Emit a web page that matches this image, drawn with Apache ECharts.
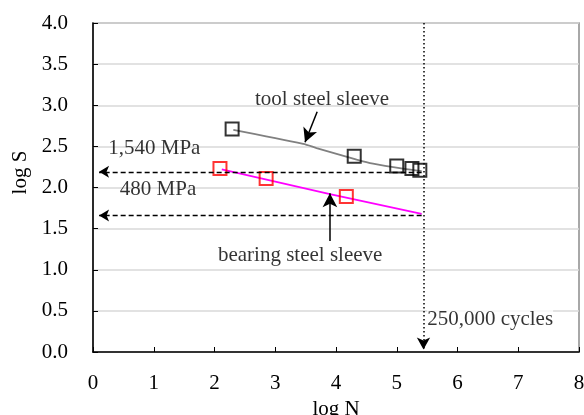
<!DOCTYPE html>
<html>
<head>
<meta charset="utf-8">
<script src="https://cdn.jsdelivr.net/npm/echarts@6/dist/echarts.min.js"></script>
<style>
  html, body { margin: 0; padding: 0; background: #fff; }
  #chart { width: 584px; height: 415px; }
</style>
</head>
<body>
<div id="chart"></div>
<script>
// measured points (log N, log S)
const toolSteelPoints = [[2.29, 2.71], [4.30, 2.38], [5.00, 2.26], [5.25, 2.23], [5.38, 2.21]];
const toolSteelFit = [[2.31, 2.70], [3.46, 2.53], [3.68, 2.48], [4.34, 2.34], [4.61, 2.29], [5.10, 2.23], [5.41, 2.20]];
const bearingPoints = [[2.09, 2.23], [2.85, 2.11], [4.17, 1.89]];
const bearingFit = [[2.12, 2.22], [3.90, 1.92], [5.41, 1.68]];

// 1,540 MPa and 480 MPa levels at 250,000 cycles
const cycleLimit = 5.44;
const stressLevels = [2.19, 1.66];

// annotation texts [x, y, text]
const labels = [
  [3.77, 3.07, 'tool steel sleeve'],
  [3.41, 1.17, 'bearing steel sleeve'],
  [1.01, 2.48, '1,540 MPa'],
  [1.07, 1.98, '480 MPa']
];
const cycleLabel = [5.50, 0.39, '250,000 cycles'];

// pointer arrows [from, to]
const pointers = [
  [[3.69, 2.92], [3.49, 2.55]],
  [[3.90, 1.35], [3.90, 1.93]]
];

const font = '"Liberation Serif", "Times New Roman", serif';
const fs = 21;

const chart = echarts.init(document.getElementById('chart'));

const option = {
  animation: false,
  backgroundColor: '#fff',
  grid: {
    left: 93, right: 5, top: 23, bottom: 63,
    outerBoundsMode: 'none', containLabel: false,
    show: true, borderColor: '#8c8c8c', borderWidth: 1.5
  },
  xAxis: {
    type: 'value', min: 0, max: 8, interval: 1,
    name: 'log N', nameLocation: 'middle', nameGap: 44,
    nameTextStyle: { fontFamily: font, fontSize: fs, color: '#000' },
    axisLine: { lineStyle: { color: '#000', width: 1.5 } },
    axisTick: { inside: true, length: 5, lineStyle: { color: '#000' } },
    axisLabel: { fontFamily: font, fontSize: fs, color: '#000', margin: 21 },
    splitLine: { show: false }
  },
  yAxis: {
    type: 'value', min: 0, max: 4, interval: 0.5,
    name: 'log S', nameLocation: 'middle', nameGap: 60,
    nameTextStyle: { fontFamily: font, fontSize: fs, color: '#000', padding: [0, 0, 0, 30] },
    axisLine: { show: true, lineStyle: { color: '#000', width: 1.5 } },
    axisTick: { show: true, inside: true, length: 5, lineStyle: { color: '#000' } },
    axisLabel: { fontFamily: font, fontSize: fs, color: '#000', margin: 25,
      formatter: v => v.toFixed(1) },
    splitLine: { lineStyle: { color: '#d9d9d9', width: 1.5 } }
  },
  series: [
    {
      name: 'tool steel fit', type: 'line', data: toolSteelFit, smooth: 0.3,
      showSymbol: false, lineStyle: { color: '#808080', width: 1.8 }, z: 2
    },
    {
      name: 'bearing fit', type: 'line', data: bearingFit,
      showSymbol: false, lineStyle: { color: '#ff00ff', width: 1.8 }, z: 2
    },
    {
      name: 'tool steel sleeve', type: 'scatter', data: toolSteelPoints,
      symbol: 'rect', symbolSize: 13,
      itemStyle: { color: 'rgba(0,0,0,0)', borderColor: '#000', borderWidth: 2 }, z: 3
    },
    {
      name: 'bearing steel sleeve', type: 'scatter', data: bearingPoints,
      symbol: 'rect', symbolSize: 13,
      itemStyle: { color: 'rgba(0,0,0,0)', borderColor: '#ff0000', borderWidth: 2 }, z: 3
    },
    {
      name: 'guides', type: 'line', data: [], z: 4,
      markLine: {
        silent: true, animation: false,
        label: { show: false },
        data: [
          ...stressLevels.map(y => [
            { coord: [cycleLimit - 0.03, y], symbol: 'none',
              lineStyle: { type: [5, 3], color: '#000', width: 1.3 } },
            { coord: [0.1, y], symbol: 'arrow', symbolSize: [9, 10] }
          ]),
          [
            { coord: [cycleLimit, 4], symbol: 'none',
              lineStyle: { type: [1.5, 2.5], color: '#000', width: 1.5 } },
            { coord: [cycleLimit, 0.03], symbol: 'arrow', symbolSize: [10, 12] }
          ],
          ...pointers.map(p => [
            { coord: p[0], symbol: 'none', lineStyle: { type: 'solid', color: '#000', width: 1.5 } },
            { coord: p[1], symbol: 'arrow', symbolSize: [11, 14] }
          ])
        ]
      }
    },
    {
      name: 'labels', type: 'scatter', symbolSize: 0, z: 5,
      data: labels.map(d => ({ value: [d[0], d[1]], name: d[2] })),
      label: {
        show: true, position: 'inside', formatter: p => p.name,
        fontFamily: font, fontSize: fs, color: '#000'
      }
    },
    {
      name: 'cycle label', type: 'scatter', symbolSize: 0, z: 5,
      data: [{ value: [cycleLabel[0], cycleLabel[1]], name: cycleLabel[2] }],
      label: {
        show: true, position: 'right', distance: 0, formatter: p => p.name,
        fontFamily: font, fontSize: fs, color: '#000', backgroundColor: '#fff'
      }
    }
  ]
};

chart.setOption(option);
</script>
</body>
</html>
